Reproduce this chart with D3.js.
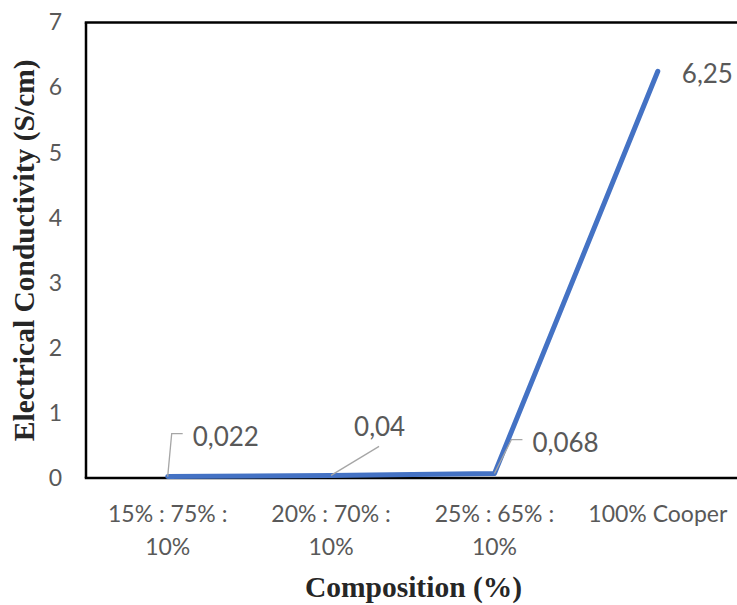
<!DOCTYPE html>
<html>
<head>
<meta charset="utf-8">
<script src="https://cdn.jsdelivr.net/npm/d3@7"></script>
<style>
  html, body { margin: 0; padding: 0; background: #fff; }
  svg { display: block; }
</style>
</head>
<body>
<svg id="chart" width="737" height="605"></svg>
<script>
// ---- data ----
const categories = ["15% : 75% : 10%", "20% : 70% : 10%", "25% : 65% : 10%", "100% Cooper"];
const conductivity = [0.022, 0.04, 0.068, 6.25];
const yTicks = [0, 1, 2, 3, 4, 5, 6, 7];
const yTitle = "Electrical Conductivity (S/cm)";
const xTitle = "Composition (%)";

// ---- layout (label placement relative to each point) ----
const labelOffsets = [
  { dx: 25, dy: -41, leader: [[4, -43], [15, -43]] },
  { dx: 23, dy: -49, leader: [[48, -29]] },
  { dx: 38, dy: -32, leader: [[17, -34], [28, -34]] },
  { dx: 24, dy: 2, leader: null }
];

const svg = d3.select("#chart");
const W = 737, H = 605;
const m = { left: 86, top: 22.5, right: -2.5, bottom: 127 };

const x = d3.scaleBand().domain(categories).range([m.left, W - m.right]).padding(0);
const y = d3.scaleLinear().domain([0, 7]).range([H - m.bottom, m.top]);

const fmt = d3.formatLocale({ decimal: ",", thousands: ".", grouping: [3], currency: ["", ""] }).format("~g");

const sans = "Lato, 'Open Sans', sans-serif";
const serif = "'Liberation Serif', 'Times New Roman', serif";
const gray = "#595959";

// y axis labels
const yAxis = d3.axisLeft(y).tickValues(yTicks).tickSize(0).tickPadding(24).tickFormat(d3.format("d"));
const gy = svg.append("g").attr("transform", `translate(${m.left},0)`).call(yAxis);
gy.select(".domain").remove();
gy.selectAll("text").attr("fill", gray).style("font-family", sans).style("font-size", "23px");

// x axis labels
const xAxis = d3.axisBottom(x).tickSize(0).tickPadding(0);
const gx = svg.append("g").attr("transform", `translate(0,${y(0)})`).call(xAxis);
gx.select(".domain").remove();
gx.selectAll("text")
  .attr("fill", gray).style("font-family", sans).style("font-size", "23px")
  .attr("dy", null).attr("y", 0)
  .each(function(d) {
    const t = d3.select(this);
    const words = d.split(" ");
    t.text(null);
    const maxW = 155, lh = 33, firstBase = 44;
    let line = [], lines = [];
    let tspan = t.append("tspan").attr("x", 0).attr("y", firstBase);
    words.forEach(w => {
      line.push(w);
      tspan.text(line.join(" "));
      if (tspan.node().getComputedTextLength() > maxW && line.length > 1) {
        line.pop();
        tspan.text(line.join(" "));
        line = [w];
        lines.push(tspan);
        tspan = t.append("tspan").attr("x", 0).attr("y", firstBase + lh * (lines.length)).text(w);
      }
    });
  });

// plot frame lines
const frame = svg.append("g").attr("stroke", "#000").attr("stroke-width", 2.5).attr("fill", "none");
frame.append("line").attr("x1", m.left).attr("x2", m.left).attr("y1", y(7)).attr("y2", y(0));
frame.append("line").attr("x1", m.left - 1.25).attr("x2", W).attr("y1", y(7)).attr("y2", y(7));
frame.append("line").attr("x1", m.left - 1.25).attr("x2", W).attr("y1", y(0)).attr("y2", y(0));

// series line
const pts = categories.map((c, i) => ({ c, v: conductivity[i], px: x(c) + x.bandwidth() / 2, py: y(conductivity[i]) }));
svg.append("path")
  .datum(pts)
  .attr("fill", "none")
  .attr("stroke", "#4472C4")
  .attr("stroke-width", 5)
  .attr("stroke-linecap", "round")
  .attr("stroke-linejoin", "round")
  .attr("d", d3.line().x(d => d.px).y(d => d.py));

// leader lines
pts.forEach((p, i) => {
  const o = labelOffsets[i];
  if (!o.leader) return;
  const path = [[p.px, p.py]].concat(o.leader.map(([a, b]) => [p.px + a, p.py + b]));
  svg.append("path")
    .attr("d", d3.line()(path))
    .attr("fill", "none")
    .attr("stroke", "#A6A6A6")
    .attr("stroke-width", 1.3);
});

// data labels
svg.append("g").selectAll("text")
  .data(pts)
  .join("text")
  .attr("x", (d, i) => d.px + labelOffsets[i].dx)
  .attr("y", (d, i) => d.py + labelOffsets[i].dy)
  .attr("dominant-baseline", "central")
  .attr("fill", gray)
  .style("font-family", sans)
  .style("font-size", "26px")
  .text(d => fmt(d.v));

// axis titles
svg.append("text")
  .attr("transform", `translate(34,${(y(0) + y(7)) / 2}) rotate(-90)`)
  .attr("text-anchor", "middle")
  .style("font-family", serif).style("font-weight", "bold").style("font-size", "29.5px")
  .attr("fill", "#262626")
  .text(yTitle);

svg.append("text")
  .attr("x", 413.5)
  .attr("y", 597)
  .attr("text-anchor", "middle")
  .attr("fill", "#262626")
  .style("font-family", serif).style("font-weight", "bold").style("font-size", "29.5px")
  .text(xTitle);
</script>
</body>
</html>
